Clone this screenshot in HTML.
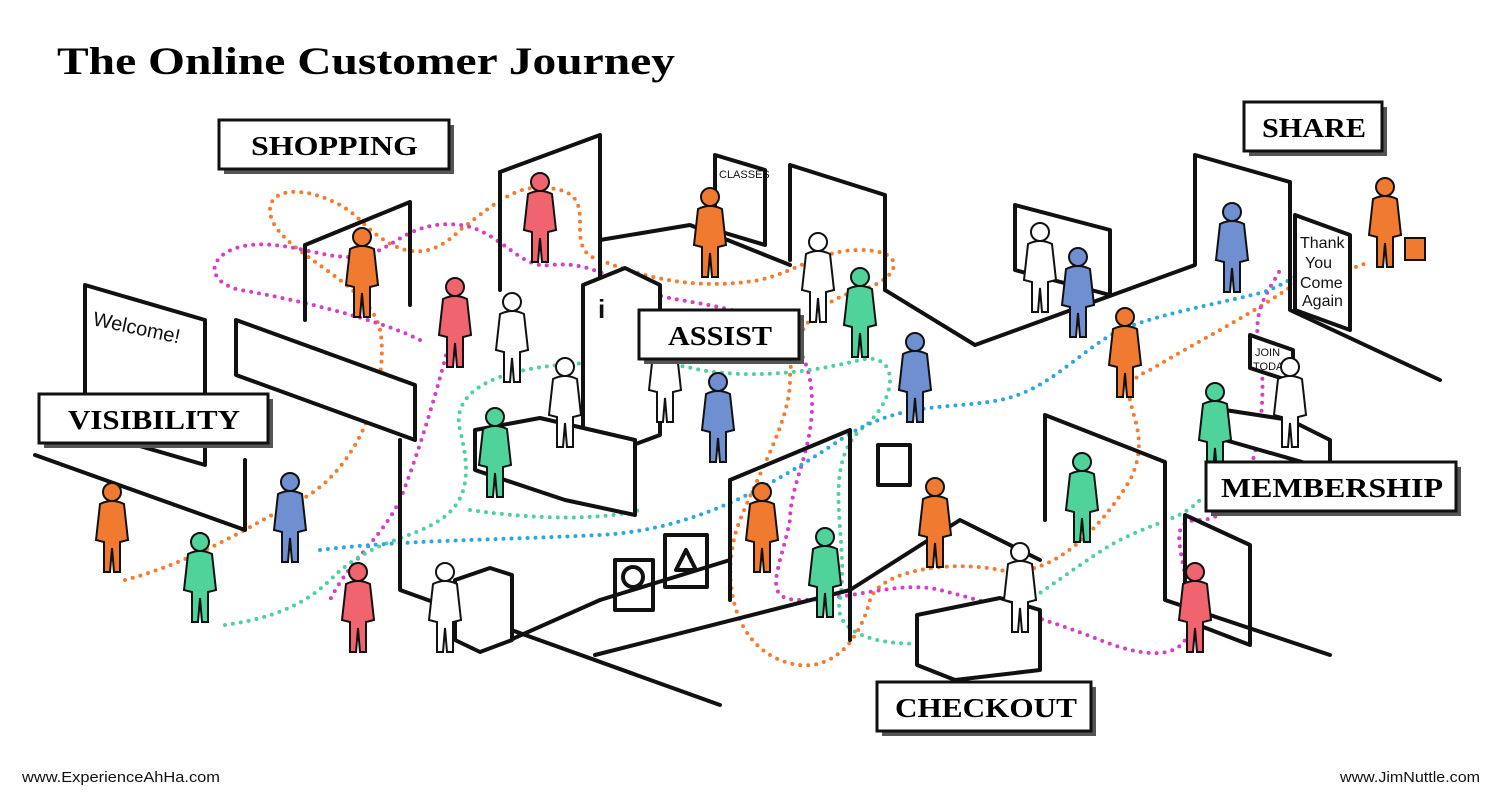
<!DOCTYPE html>
<html><head><meta charset="utf-8"><style>
html,body{margin:0;padding:0;background:#fff;}
svg{display:block;}
.lbl{font-family:"Liberation Serif",serif;font-weight:bold;font-size:27px;}
</style></head><body>
<svg width="1501" height="801" viewBox="0 0 1501 801" xmlns="http://www.w3.org/2000/svg">
<defs>
<g id="fig"><circle cx="0" cy="-58" r="9"/><path d="M-12,-46 Q0,-52 12,-46 L16,-10 L8,-8 L8,22 L2,22 L0,-2 L-2,22 L-8,22 L-8,-8 L-16,-10 Z"/></g>
</defs>
<rect width="1501" height="801" fill="#fff"/>
<text x="57" y="74" font-family="Liberation Serif,serif" font-weight="bold" font-size="39" textLength="618" lengthAdjust="spacingAndGlyphs">The Online Customer Journey</text>

<g fill="none" stroke-width="4" stroke-linecap="round" stroke-dasharray="0 8">
<path stroke="#f47c30" d="M125,580 C200,560 260,520 300,500 C360,470 390,380 380,330 C370,280 270,250 270,210 C270,180 330,190 360,220 C400,260 430,260 460,230 C500,200 520,180 560,190 C600,200 560,250 600,260 C650,280 700,290 760,280 C800,270 820,250 860,250 C910,250 900,280 860,290 C820,300 790,330 790,380 C790,420 760,470 740,520 C720,570 730,640 780,660 C830,680 860,640 870,600 C880,570 950,560 1000,570 C1050,580 1100,530 1130,480 C1160,420 1100,390 1150,370 C1200,340 1260,310 1300,280 C1330,270 1360,270 1370,260"/>
<path stroke="#d43fc4" d="M420,340 C380,320 300,300 240,290 C200,280 210,250 250,245 C300,240 340,270 380,250 C400,240 420,220 460,225 C500,230 520,270 550,265 C600,260 620,290 680,300 C740,310 800,320 810,380 C820,440 790,480 790,520 C780,570 760,600 800,600 C850,600 900,580 940,590 C980,600 1050,620 1100,640 C1150,660 1190,660 1190,620 C1190,560 1160,520 1200,520 C1250,520 1270,420 1260,350 C1250,310 1270,290 1280,270 M450,340 C440,380 420,450 400,500 C380,540 350,560 330,600"/>
<path stroke="#4fd0a0" d="M225,625 C260,620 300,610 330,580 C370,540 410,540 440,520 C470,500 470,470 460,430 C450,390 500,370 560,365 C620,360 660,360 700,370 C760,380 820,370 860,360 C900,350 900,400 860,430 C820,470 850,540 840,600 C830,640 900,650 950,640 C1000,630 1080,560 1120,540 C1160,520 1180,520 1200,500 M470,510 C540,520 600,520 640,510"/>
<path stroke="#2aa8e0" d="M320,550 C400,540 500,540 600,535 C700,530 780,480 840,440 C900,400 950,410 1000,400 C1050,390 1080,350 1120,330 C1170,310 1240,300 1270,290 C1290,280 1300,275 1300,270"/>
</g>

<g fill="none" stroke="#111" stroke-width="4" stroke-linejoin="round" stroke-linecap="round">
<path d="M35,455 L245,530"/>
<path d="M245,530 L245,460"/>
<path d="M236,320 L415,385 L415,440 L236,375 Z" fill="#fff"/>
<path d="M305,245 L410,202 L410,305 M305,245 L305,320"/>
<path d="M400,440 L400,590 L720,705"/>
<path d="M500,172 L600,135 L600,295 M500,172 L500,290"/>
<path d="M600,240 L690,225 L790,265 M790,165 L885,195 L885,290 M790,165 L790,260"/>
<path d="M885,290 L975,345 L1195,265 L1195,155 L1290,182 L1290,310 L1440,380"/>
<path d="M510,580 L510,640 L600,600"/>
<path d="M730,480 L850,430 L850,640 M730,480 L730,600"/>
<path d="M600,600 L730,560"/>
<path d="M595,655 L850,590 L960,520 L1040,560"/>
<path d="M1045,415 L1165,462 L1165,600 L1330,655 M1045,415 L1045,520"/>
<path d="M1185,515 L1250,545 L1250,645 L1185,620 Z"/>
<path d="M1295,215 L1350,235 L1350,330 L1295,310 Z" fill="#fff"/>
<path d="M85,285 L205,320 L205,465 L85,430 Z" fill="#fff"/>
<path d="M715,155 L765,170 L765,245 L715,230 Z" fill="#fff"/>
<path d="M1015,205 L1110,230 L1110,295 L1015,270 Z" fill="#fff"/>
<path d="M583,285 L625,268 L660,285 L660,435 L625,448 L583,430 Z" fill="#fff"/>
<path d="M475,430 L540,418 L635,440 L635,515 L565,500 L475,470 Z" fill="#fff"/>
<path d="M455,580 L490,568 L512,575 L512,640 L480,652 L455,640 Z" fill="#fff"/>
<path d="M917,615 L1000,598 L1040,610 L1040,670 L955,680 L917,665 Z" fill="#fff"/>
<rect x="878" y="445" width="32" height="40"/>
<rect x="615" y="560" width="38" height="50"/><rect x="665" y="535" width="42" height="52"/>
<circle cx="633" cy="577" r="10"/><path d="M676,570 L686,550 L696,570 Z"/>
<path d="M1250,335 L1293,350 L1293,382 L1250,368 Z" fill="#fff"/>
<path d="M1225,410 L1290,420 L1330,440 L1330,470 L1225,440 Z" fill="#fff"/>
</g>
<g font-family="Liberation Sans,sans-serif" font-size="14" fill="#111">
<text x="92" y="325" font-size="20" transform="rotate(12 92 325)">Welcome!</text>
<text x="719" y="178" font-size="11">CLASSES</text>
<text x="1300" y="248" font-size="16">Thank</text><text x="1305" y="268" font-size="16">You</text><text x="1300" y="288" font-size="16">Come</text><text x="1302" y="306" font-size="16">Again</text>
<text x="1255" y="356" font-size="11">JOIN</text><text x="1253" y="370" font-size="11">TODAY</text>
<text x="598" y="318" font-size="26" font-weight="bold">i</text>
</g>

<g>
<use href="#fig" transform="translate(112,550)" fill="#f07a30" stroke="#111" stroke-width="2"/>
<use href="#fig" transform="translate(200,600)" fill="#4fd39a" stroke="#111" stroke-width="2"/>
<use href="#fig" transform="translate(290,540)" fill="#6f8fd0" stroke="#111" stroke-width="2"/>
<use href="#fig" transform="translate(358,630)" fill="#f06470" stroke="#111" stroke-width="2"/>
<use href="#fig" transform="translate(362,295)" fill="#f07a30" stroke="#111" stroke-width="2"/>
<use href="#fig" transform="translate(455,345)" fill="#f06470" stroke="#111" stroke-width="2"/>
<use href="#fig" transform="translate(512,360)" fill="#fff" stroke="#111" stroke-width="2"/>
<use href="#fig" transform="translate(540,240)" fill="#f06470" stroke="#111" stroke-width="2"/>
<use href="#fig" transform="translate(495,475)" fill="#4fd39a" stroke="#111" stroke-width="2"/>
<use href="#fig" transform="translate(710,255)" fill="#f07a30" stroke="#111" stroke-width="2"/>
<use href="#fig" transform="translate(818,300)" fill="#fff" stroke="#111" stroke-width="2"/>
<use href="#fig" transform="translate(860,335)" fill="#4fd39a" stroke="#111" stroke-width="2"/>
<use href="#fig" transform="translate(665,400)" fill="#fff" stroke="#111" stroke-width="2"/>
<use href="#fig" transform="translate(718,440)" fill="#6f8fd0" stroke="#111" stroke-width="2"/>
<use href="#fig" transform="translate(915,400)" fill="#6f8fd0" stroke="#111" stroke-width="2"/>
<use href="#fig" transform="translate(445,630)" fill="#fff" stroke="#111" stroke-width="2"/>
<use href="#fig" transform="translate(762,550)" fill="#f07a30" stroke="#111" stroke-width="2"/>
<use href="#fig" transform="translate(825,595)" fill="#4fd39a" stroke="#111" stroke-width="2"/>
<use href="#fig" transform="translate(935,545)" fill="#f07a30" stroke="#111" stroke-width="2"/>
<use href="#fig" transform="translate(1020,610)" fill="#fff" stroke="#111" stroke-width="2"/>
<use href="#fig" transform="translate(1082,520)" fill="#4fd39a" stroke="#111" stroke-width="2"/>
<use href="#fig" transform="translate(1195,630)" fill="#f06470" stroke="#111" stroke-width="2"/>
<use href="#fig" transform="translate(1078,315)" fill="#6f8fd0" stroke="#111" stroke-width="2"/>
<use href="#fig" transform="translate(1125,375)" fill="#f07a30" stroke="#111" stroke-width="2"/>
<use href="#fig" transform="translate(1232,270)" fill="#6f8fd0" stroke="#111" stroke-width="2"/>
<use href="#fig" transform="translate(1215,450)" fill="#4fd39a" stroke="#111" stroke-width="2"/>
<use href="#fig" transform="translate(1385,245)" fill="#f07a30" stroke="#111" stroke-width="2"/>
<use href="#fig" transform="translate(565,425)" fill="#fff" stroke="#111" stroke-width="2"/>
<use href="#fig" transform="translate(1040,290)" fill="#fff" stroke="#111" stroke-width="2"/>
<use href="#fig" transform="translate(1290,425)" fill="#fff" stroke="#111" stroke-width="2"/>
<rect x="1405" y="238" width="20" height="22" fill="#f07a30" stroke="#111" stroke-width="2"/>
</g>

<g>
<rect x="224" y="125" width="230" height="49" fill="#555"/><rect x="219" y="120" width="230" height="49" fill="#fff" stroke="#111" stroke-width="3"/>
<text class="lbl" x="251" y="155" textLength="167" lengthAdjust="spacingAndGlyphs">SHOPPING</text>
<rect x="44" y="399" width="229" height="49" fill="#555"/><rect x="39" y="394" width="229" height="49" fill="#fff" stroke="#111" stroke-width="3"/>
<text class="lbl" x="68" y="429" textLength="172" lengthAdjust="spacingAndGlyphs">VISIBILITY</text>
<rect x="644" y="315" width="160" height="49" fill="#555"/><rect x="639" y="310" width="160" height="49" fill="#fff" stroke="#111" stroke-width="3"/>
<text class="lbl" x="668" y="345" textLength="104" lengthAdjust="spacingAndGlyphs">ASSIST</text>
<rect x="1249" y="107" width="138" height="49" fill="#555"/><rect x="1244" y="102" width="138" height="49" fill="#fff" stroke="#111" stroke-width="3"/>
<text class="lbl" x="1262" y="137" textLength="104" lengthAdjust="spacingAndGlyphs">SHARE</text>
<rect x="1211" y="467" width="250" height="49" fill="#555"/><rect x="1206" y="462" width="250" height="49" fill="#fff" stroke="#111" stroke-width="3"/>
<text class="lbl" x="1221" y="497" textLength="222" lengthAdjust="spacingAndGlyphs">MEMBERSHIP</text>
<rect x="882" y="687" width="214" height="49" fill="#555"/><rect x="877" y="682" width="214" height="49" fill="#fff" stroke="#111" stroke-width="3"/>
<text class="lbl" x="895" y="717" textLength="182" lengthAdjust="spacingAndGlyphs">CHECKOUT</text>
</g>

<text x="22" y="782" font-family="Liberation Sans,sans-serif" font-size="15" fill="#111" textLength="198" lengthAdjust="spacingAndGlyphs">www.ExperienceAhHa.com</text>
<text x="1340" y="782" font-family="Liberation Sans,sans-serif" font-size="15" fill="#111" textLength="140" lengthAdjust="spacingAndGlyphs">www.JimNuttle.com</text>
</svg>
</body></html>
